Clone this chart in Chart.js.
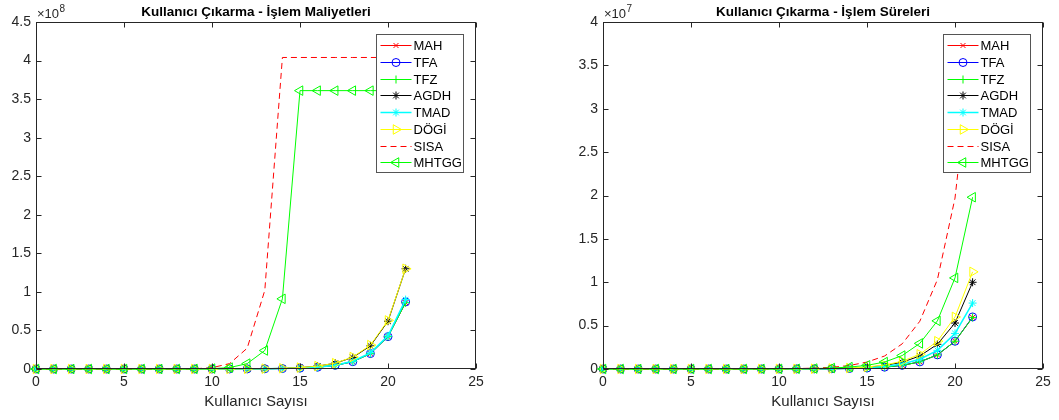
<!DOCTYPE html>
<html>
<head>
<meta charset="utf-8">
<script src="https://cdn.jsdelivr.net/npm/chart.js@4/dist/chart.umd.min.js"></script>
<style>
  body { margin: 0; background: #fff; }
  #wrap { position: relative; width: 1059px; height: 420px; }
  .panel { position: absolute; top: 0; height: 420px; }
</style>
</head>
<body>
<div id="wrap">
  <div class="panel" style="left:0;width:530px"><canvas id="cost-chart"></canvas></div>
  <div class="panel" style="left:530px;width:529px"><canvas id="time-chart"></canvas></div>
</div>
<script>
const users = [0, 1, 2, 3, 4, 5, 6, 7, 8, 9, 10, 11, 12, 13, 14, 15, 16, 17, 18, 19, 20, 21];
const seriesNames = ['MAH', 'TFA', 'TFZ', 'AGDH', 'TMAD', 'DÖGİ', 'SISA', 'MHTGG'];

// Kullanıcı Çıkarma - İşlem Maliyetleri (x 10^8)
const costMAH   = [0, 0, 0, 0, 0, 0, 0, 0, 1.5e4, 2e4, 3e4, 7e4, 1.3e5, 2.7e5, 5.5e5, 1.1e6, 2.3e6, 4.7e6, 9.5e6, 2.0e7, 4.2e7, 8.6e7];
const costTFA   = [0, 0, 0, 0, 0, 0, 0, 0, 1.5e4, 2e4, 3e4, 7e4, 1.3e5, 2.7e5, 5.5e5, 1.1e6, 2.3e6, 4.7e6, 9.5e6, 2.0e7, 4.2e7, 8.7e7];
const costTFZ   = [0, 0, 0, 0, 0, 0, 0, 0, 1.5e4, 2e4, 3e4, 7e4, 1.3e5, 2.7e5, 5.5e5, 1.1e6, 2.3e6, 4.7e6, 9.5e6, 2.0e7, 4.2e7, 8.6e7];
const costAGDH  = [0, 0, 0, 0, 0, 0, 0, 0, 2e4, 3e4, 5e4, 1.1e5, 2.2e5, 4.5e5, 9e5, 1.8e6, 3.7e6, 7.5e6, 1.5e7, 3.0e7, 6.2e7, 1.3e8];
const costTMAD  = [0, 0, 0, 0, 0, 0, 0, 0, 1.5e4, 2e4, 3e4, 7e4, 1.4e5, 2.8e5, 5.6e5, 1.2e6, 2.4e6, 4.9e6, 1.0e7, 2.1e7, 4.3e7, 9.0e7];
const costDOGI  = [0, 0, 0, 0, 0, 0, 0, 0, 2e4, 3e4, 5e4, 1.1e5, 2.2e5, 4.6e5, 9.2e5, 1.8e6, 3.7e6, 7.6e6, 1.55e7, 3.1e7, 6.3e7, 1.3e8];
const costSISA  = [0, 0, 0, 0, 0, 0, 0, 1e4, 5e4, 3e5, 1.7e6, 7e6, 2.7e7, 1.02e8, 4.04e8, 4.04e8, 4.04e8, 4.04e8, 4.04e8, 4.04e8, 4.04e8, 4.04e8];
const costMHTGG = [0, 0, 0, 0, 0, 0, 0, 0, 4e4, 1.5e5, 5e5, 1.8e6, 7e6, 2.4e7, 9.1e7, 3.61e8, 3.61e8, 3.61e8, 3.61e8, 3.61e8, 3.61e8, 3.61e8];

// Kullanıcı Çıkarma - İşlem Süreleri (x 10^7)
const timeMAH   = [0, 0, 0, 0, 0, 0, 0, 0, 1e3, 2e3, 4e3, 7e3, 1.4e4, 2.8e4, 5.5e4, 1.1e5, 2.1e5, 4.2e5, 8.2e5, 1.63e6, 3.2e6, 5.95e6];
const timeTFA   = [0, 0, 0, 0, 0, 0, 0, 0, 1e3, 2e3, 4e3, 7e3, 1.4e4, 2.8e4, 5.5e4, 1.1e5, 2.1e5, 4.2e5, 8.2e5, 1.63e6, 3.2e6, 6.0e6];
const timeTFZ   = [0, 0, 0, 0, 0, 0, 0, 0, 1e3, 2e3, 4e3, 7e3, 1.4e4, 2.8e4, 5.5e4, 1.1e5, 2.1e5, 4.2e5, 8.2e5, 1.63e6, 3.2e6, 5.95e6];
const timeAGDH  = [0, 0, 0, 0, 0, 0, 0, 0, 2e3, 4e3, 7e3, 1.3e4, 2.6e4, 5e4, 1e5, 2.0e5, 4.0e5, 7.8e5, 1.5e6, 2.85e6, 5.3e6, 1.0e7];
const timeTMAD  = [0, 0, 0, 0, 0, 0, 0, 0, 1e3, 3e3, 5e3, 1e4, 2e4, 3.8e4, 7.5e4, 1.5e5, 3.0e5, 5.8e5, 1.12e6, 2.15e6, 4.1e6, 7.6e6];
const timeDOGI  = [0, 0, 0, 0, 0, 0, 0, 0, 2e3, 4e3, 8e3, 1.5e4, 3e4, 5.6e4, 1.1e5, 2.3e5, 4.6e5, 8.9e5, 1.7e6, 3.2e6, 6.0e6, 1.12e7];
const timeSISA  = [0, 0, 0, 0, 0, 0, 0, 0, 5e3, 1.2e4, 2.5e4, 5e4, 1e5, 2e5, 4e5, 8e5, 1.5e6, 2.9e6, 5.5e6, 1.03e7, 1.97e7, 3.77e7];
const timeMHTGG = [0, 0, 0, 0, 0, 0, 0, 0, 3e3, 6e3, 1.2e4, 2.5e4, 5e4, 1.1e5, 2.2e5, 4.2e5, 8e5, 1.55e6, 2.95e6, 5.55e6, 1.05e7, 1.98e7];

const seriesStyles = [
    { color: '#ff0000', point: 'crossRot', size: 3.5 },
    { color: '#0000ff', point: 'circle', size: 4 },
    { color: '#00ff00', point: 'cross', size: 4 },
    { color: '#000000', point: 'star', size: 4 },
    { color: '#00ffff', point: 'star', size: 4, width: 1.5 },
    { color: '#ffff00', point: 'triangle', size: 5.5, rot: 90 },
    { color: '#ff0000', point: false, dash: [6, 4] },
    { color: '#00ff00', point: 'triangle', size: 5.5, rot: -90 }
];

const FONT = "'Liberation Sans', Arial, sans-serif";
const AXIS_COLOR = '#262626';

function buildDatasets(seriesValues) {
    return seriesValues.map(function(values, i) {
        const st = seriesStyles[i];
        return {
            label: seriesNames[i],
            data: users.map((u, k) => ({ x: u, y: values[k] })),
            borderColor: st.color,
            backgroundColor: 'rgba(0,0,0,0)',
            borderWidth: st.width || 1,
            borderDash: st.dash || [],
            pointStyle: st.point || 'circle',
            pointRadius: st.point ? st.size : 0,
            pointRotation: st.rot || 0,
            pointBorderColor: st.color,
            pointBackgroundColor: 'rgba(0,0,0,0)',
            pointBorderWidth: 1,
            tension: 0,
            clip: false,
            order: seriesNames.length - i // later series drawn on top, like MATLAB
        };
    });
}

function drawMarker(ctx, style, x, y) {
    if (!style.point) return;
    Chart.helpers.drawPoint(ctx, {
        pointStyle: style.point,
        rotation: style.rot || 0,
        radius: style.size,
        borderWidth: 1
    }, x, y);
}

// box, inward ticks, legend, title and exponent label
function matlabPlugin(title, exponent) {
    return {
        id: 'matlabAxes',
        afterDatasetsDraw(chart) {
            const ctx = chart.ctx;
            const a = chart.chartArea;
            const xs = chart.scales.x;
            const ys = chart.scales.y;
            const L = Math.round(a.left) + 0.5, R = Math.round(a.right) - 0.5;
            const T = Math.round(a.top) + 0.5, B = Math.round(a.bottom) - 0.5;

            ctx.save();
            ctx.setLineDash([]);
            ctx.strokeStyle = AXIS_COLOR;
            ctx.lineWidth = 1;
            ctx.strokeRect(L, T, R - L, B - T);
            ctx.beginPath();
            xs.ticks.forEach(function(t) {
                const px = Math.round(xs.getPixelForValue(t.value)) + 0.5;
                ctx.moveTo(px, B); ctx.lineTo(px, B - 5);
                ctx.moveTo(px, T); ctx.lineTo(px, T + 5);
            });
            ys.ticks.forEach(function(t) {
                const py = Math.round(ys.getPixelForValue(t.value)) + 0.5;
                ctx.moveTo(L, py); ctx.lineTo(L + 5, py);
                ctx.moveTo(R, py); ctx.lineTo(R - 5, py);
            });
            ctx.stroke();

            // legend
            const bw = 87, bh = 138;
            const bx = Math.round(a.right) - 13 - bw + 0.5;
            const by = Math.round(a.top) + 12 + 0.5;
            ctx.fillStyle = '#ffffff';
            ctx.fillRect(bx, by, bw, bh);
            ctx.strokeStyle = '#555555';
            ctx.strokeRect(bx, by, bw, bh);
            ctx.font = '13px ' + FONT;
            ctx.textBaseline = 'middle';
            ctx.textAlign = 'left';
            chart.data.datasets.forEach(function(ds, i) {
                const st = seriesStyles[i];
                const cy = Math.round(by + 10.5 + i * 16.76) + 0.5;
                ctx.strokeStyle = st.color;
                ctx.lineWidth = st.width || 1;
                ctx.setLineDash(st.dash || []);
                ctx.beginPath();
                ctx.moveTo(bx + 4, cy);
                ctx.lineTo(bx + 35, cy);
                ctx.stroke();
                ctx.setLineDash([]);
                ctx.lineWidth = 1;
                ctx.fillStyle = 'rgba(0,0,0,0)';
                drawMarker(ctx, st, bx + 19.5, cy);
                ctx.fillStyle = '#000000';
                ctx.fillText(ds.label, bx + 37, cy + 0.5);
            });

            // title
            ctx.fillStyle = '#000000';
            ctx.font = 'bold 13.5px ' + FONT;
            ctx.textAlign = 'center';
            ctx.fillText(title, (a.left + a.right) / 2, 12);

            // exponent label
            ctx.fillStyle = AXIS_COLOR;
            ctx.textAlign = 'left';
            ctx.textBaseline = 'alphabetic';
            ctx.font = '13px ' + FONT;
            ctx.fillText('\u00d710', a.left + 1, a.top - 4);
            const w = ctx.measureText('\u00d710').width;
            ctx.font = '10px ' + FONT;
            ctx.fillText(String(exponent), a.left + 1 + w + 0.5, a.top - 10);
            ctx.restore();
        }
    };
}

function makeChart(canvasId, seriesValues, cfg) {
    const scaleDiv = Math.pow(10, cfg.exponent);
    return new Chart(document.getElementById(canvasId).getContext('2d'), {
        type: 'line',
        data: { datasets: buildDatasets(seriesValues) },
        options: {
            responsive: true,
            maintainAspectRatio: false,
            animation: false,
            devicePixelRatio: 1,
            layout: { padding: { left: cfg.padLeft, right: cfg.padRight, top: 22, bottom: 0 } },
            plugins: { legend: { display: false }, tooltip: { enabled: false }, title: { display: false } },
            scales: {
                x: {
                    type: 'linear',
                    min: 0,
                    max: 25,
                    grid: { display: false, drawTicks: false },
                    border: { display: false },
                    ticks: { stepSize: 5, padding: 5, color: AXIS_COLOR, font: { family: FONT, size: 14 }, maxRotation: 0 },
                    title: {
                        display: true,
                        text: 'Kullanıcı Sayısı',
                        color: AXIS_COLOR,
                        font: { family: FONT, size: 15 },
                        padding: { top: 0, bottom: 9 }
                    },
                    afterFit: function(s) { s.height = 51; }
                },
                y: {
                    min: 0,
                    max: cfg.yMax,
                    grid: { display: false, drawTicks: false },
                    border: { display: false },
                    ticks: {
                        stepSize: cfg.yStep,
                        padding: 5,
                        color: AXIS_COLOR,
                        font: { family: FONT, size: 14 },
                        callback: function(v) { return String(+(v / scaleDiv).toFixed(1)); }
                    },
                    afterFit: function(s) { s.width = 36; }
                }
            }
        },
        plugins: [matlabPlugin(cfg.title, cfg.exponent)]
    });
}

makeChart('cost-chart',
    [costMAH, costTFA, costTFZ, costAGDH, costTMAD, costDOGI, costSISA, costMHTGG],
    { title: 'Kullanıcı Çıkarma - İşlem Maliyetleri', exponent: 8, yMax: 4.5e8, yStep: 0.5e8, padLeft: 0, padRight: 54 });

makeChart('time-chart',
    [timeMAH, timeTFA, timeTFZ, timeAGDH, timeTMAD, timeDOGI, timeSISA, timeMHTGG],
    { title: 'Kullanıcı Çıkarma - İşlem Süreleri', exponent: 7, yMax: 4e7, yStep: 0.5e7, padLeft: 37, padRight: 16 });
</script>
</body>
</html>
